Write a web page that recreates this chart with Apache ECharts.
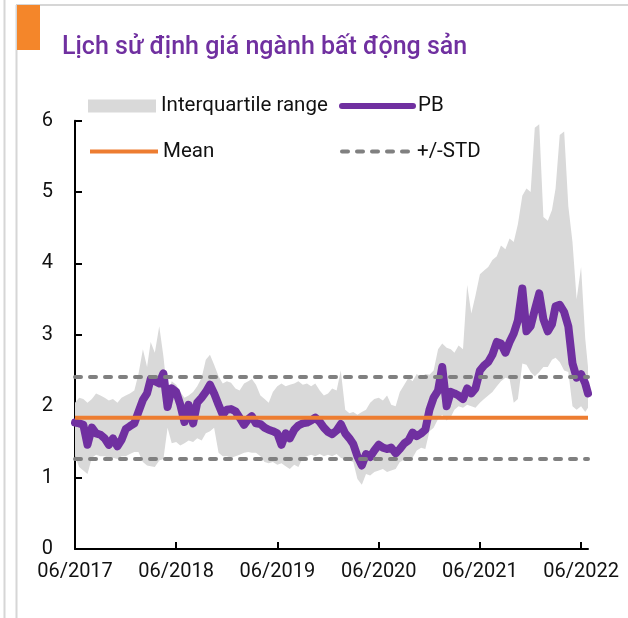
<!DOCTYPE html>
<html>
<head>
<meta charset="utf-8">
<script src="https://cdn.jsdelivr.net/npm/echarts@6/dist/echarts.min.js"></script>
<style>
  html, body { margin: 0; padding: 0; background: #fff; }
  #chart { width: 628px; height: 618px; }
</style>
</head>
<body>
<div id="chart"></div>
<script>
// Semi-monthly observation dates
const dates = [
  "2017-06-01","2017-06-16","2017-07-01","2017-07-16","2017-08-01","2017-08-16","2017-09-01","2017-09-16","2017-10-01","2017-10-16","2017-11-01","2017-11-16","2017-12-01","2017-12-16",
  "2018-01-01","2018-01-16","2018-02-01","2018-02-16","2018-03-01","2018-03-16","2018-04-01","2018-04-16","2018-05-01","2018-05-16","2018-06-01","2018-06-16","2018-07-01","2018-07-16","2018-08-01","2018-08-16","2018-09-01","2018-09-16","2018-10-01","2018-10-16","2018-11-01","2018-11-16","2018-12-01","2018-12-16",
  "2019-01-01","2019-01-16","2019-02-01","2019-02-16","2019-03-01","2019-03-16","2019-04-01","2019-04-16","2019-05-01","2019-05-16","2019-06-01","2019-06-16","2019-07-01","2019-07-16","2019-08-01","2019-08-16","2019-09-01","2019-09-16","2019-10-01","2019-10-16","2019-11-01","2019-11-16","2019-12-01","2019-12-16",
  "2020-01-01","2020-01-16","2020-02-01","2020-02-16","2020-03-01","2020-03-16","2020-04-01","2020-04-16","2020-05-01","2020-05-16","2020-06-01","2020-06-16","2020-07-01","2020-07-16","2020-08-01","2020-08-16","2020-09-01","2020-09-16","2020-10-01","2020-10-16","2020-11-01","2020-11-16","2020-12-01","2020-12-16",
  "2021-01-01","2021-01-16","2021-02-01","2021-02-16","2021-03-01","2021-03-16","2021-04-01","2021-04-16","2021-05-01","2021-05-16","2021-06-01","2021-06-16","2021-07-01","2021-07-16","2021-08-01","2021-08-16","2021-09-01","2021-09-16","2021-10-01","2021-10-16","2021-11-01","2021-11-16","2021-12-01","2021-12-16",
  "2022-01-01","2022-01-16","2022-02-01","2022-02-16","2022-03-01","2022-03-16","2022-04-01","2022-04-16","2022-05-01","2022-05-16","2022-06-01","2022-06-16","2022-06-26"
];

// Sector P/B
const pb = [
  1.77,1.76,1.74,1.46,1.70,1.62,1.60,1.55,1.46,1.55,1.44,1.53,1.68,1.72,
  1.76,1.92,2.09,2.18,2.38,2.35,2.32,2.46,1.99,2.25,2.20,2.02,1.78,2.02,1.76,2.05,2.12,2.20,2.30,2.18,2.02,1.88,1.95,1.96,
  1.93,1.84,1.74,1.82,1.86,1.76,1.75,1.70,1.67,1.65,1.62,1.46,1.62,1.55,1.67,1.73,1.76,1.77,1.80,1.84,1.78,1.70,1.64,1.61,
  1.66,1.75,1.62,1.55,1.47,1.30,1.17,1.33,1.29,1.38,1.46,1.42,1.40,1.42,1.34,1.40,1.48,1.52,1.63,1.58,1.62,1.67,1.95,2.12,
  2.22,2.55,2.00,2.20,2.18,2.15,2.10,2.25,2.18,2.25,2.50,2.57,2.62,2.72,2.90,2.88,2.75,2.90,3.02,3.20,3.65,3.05,3.12,3.35,
  3.58,3.22,3.05,3.15,3.40,3.42,3.32,3.12,2.60,2.40,2.45,2.32,2.18
];

// Interquartile range: 25th percentile
const iqrLow = [
  1.30,1.15,1.10,1.05,1.28,1.32,1.30,1.30,1.27,1.28,1.26,1.30,1.30,1.33,
  1.36,1.36,1.22,1.17,1.16,1.15,1.24,1.26,1.70,1.48,1.50,1.45,1.48,1.52,1.50,1.55,1.52,1.62,1.65,1.70,1.35,1.30,1.30,1.28,
  1.30,1.32,1.35,1.36,1.35,1.35,1.30,1.22,1.20,1.22,1.18,1.20,1.16,1.12,1.18,1.15,1.28,1.30,1.32,1.30,1.33,1.30,1.32,1.30,
  1.33,1.28,1.25,1.24,1.22,0.98,0.90,1.05,1.03,1.08,1.10,1.12,1.08,1.10,1.12,1.22,1.25,1.24,1.28,1.38,1.42,1.40,1.65,1.70,
  1.82,1.88,1.80,1.85,1.95,2.00,1.98,2.02,2.00,1.98,2.05,2.10,2.15,2.20,2.28,2.35,2.40,2.38,2.05,2.10,2.60,2.58,2.48,2.42,
  2.48,2.55,2.55,2.65,2.68,2.62,2.50,2.48,2.00,1.95,2.00,1.92,1.98
];

// Interquartile range: 75th percentile
const iqrHigh = [
  2.05,2.12,2.10,2.05,2.10,2.18,2.15,2.12,2.08,2.10,2.05,2.12,2.15,2.18,
  2.22,2.45,2.80,2.55,2.90,2.75,3.12,2.70,2.15,2.35,2.30,2.20,2.12,2.15,2.20,2.28,2.40,2.65,2.72,2.58,2.42,2.32,2.35,2.33,
  2.25,2.22,2.32,2.35,2.38,2.30,2.15,2.10,2.05,2.20,2.28,2.32,2.28,2.30,2.32,2.35,2.30,2.32,2.28,2.32,2.22,2.15,2.18,2.25,
  2.22,2.50,1.95,1.90,1.92,1.88,1.92,1.95,2.05,2.10,2.12,2.08,2.15,2.02,2.00,2.20,2.30,2.40,2.35,2.45,2.40,2.45,2.44,2.50,
  2.80,2.88,2.82,2.80,2.75,2.85,2.80,3.70,3.30,3.55,3.85,3.90,3.95,4.05,4.10,4.25,4.20,4.35,4.30,4.55,4.95,5.05,5.00,5.90,
  5.95,4.65,4.60,4.75,5.05,5.80,5.85,4.80,4.30,3.50,3.95,2.95,2.55
];

const meanPB = 1.84;
const stdUpper = 2.41;
const stdLower = 1.26;

const tickDates = ["2017-06-01","2018-06-01","2019-06-01","2020-06-01","2021-06-01","2022-06-01"];
const axisStart = "2017-06-01";
const axisEnd = "2022-06-26";

const toTs = d => { const p = d.split('-').map(Number); return Date.UTC(p[0], p[1] - 1, p[2]); };
const fmtMonth = v => { const d = new Date(v); const m = d.getUTCMonth() + 1; return (m < 10 ? '0' + m : '' + m) + '/' + d.getUTCFullYear(); };

const xs = dates.map(toTs);
const firstX = xs[0], lastX = xs[xs.length - 1];
const flat = v => [[firstX, v], [lastX, v]];

const FONT = 'Roboto';
const PURPLE = '#7030A0';
const ORANGE = '#ED7D31';
const BAND = '#D9D9D9';
const GREY = '#808080';
const txt = { fontFamily: FONT, fontSize: 20.5, color: '#111' };

// Band between the 25th and 75th percentiles, drawn as one polygon
function renderBand(params, api) {
  if (params.dataIndex !== 0) return null;
  const pts = [];
  for (let i = 0; i < xs.length; i++) pts.push(api.coord([xs[i], iqrHigh[i]]));
  for (let i = xs.length - 1; i >= 0; i--) pts.push(api.coord([xs[i], iqrLow[i]]));
  return { type: 'polygon', shape: { points: pts }, style: { fill: BAND }, silent: true };
}

const chart = echarts.init(document.getElementById('chart'), null, { renderer: 'canvas' });

const lineLegend = (name, left, top, width, lw) => ({
  data: [name], left: left, top: top, padding: 0,
  itemWidth: width, itemHeight: 13,
  lineStyle: { width: lw },
  itemStyle: { opacity: 0 },
  textStyle: txt, selectedMode: false
});

chart.setOption({
  animation: false,
  backgroundColor: '#fff',
  title: {
    text: 'Lịch sử định giá ngành bất động sản',
    left: 62, top: 35, padding: 0,
    textStyle: { fontFamily: FONT, fontSize: 25, fontWeight: 500, color: PURPLE }
  },
  graphic: [
    { type: 'line', shape: { x1: 4.5, y1: 0, x2: 4.5, y2: 618 }, style: { stroke: '#D6D6D6', lineWidth: 2 }, silent: true },
    { type: 'line', shape: { x1: 16.5, y1: 5, x2: 16.5, y2: 618 }, style: { stroke: '#D6D6D6', lineWidth: 2 }, silent: true },
    { type: 'line', shape: { x1: 16, y1: 5, x2: 628, y2: 5 }, style: { stroke: '#D6D6D6', lineWidth: 2 }, silent: true },
    { type: 'rect', shape: { x: 17, y: 5, width: 23, height: 45 }, style: { fill: '#F4862A' }, silent: true }
  ],
  legend: [
    { data: ['Interquartile range'], left: 88, top: 95.5, padding: 0, itemWidth: 68, itemHeight: 13, icon: 'rect', itemStyle: { color: BAND }, textStyle: txt, selectedMode: false },
    lineLegend('PB', 339, 95.5, 71, 6),
    lineLegend('Mean', 88, 141, 68, 4),
    lineLegend('+/-STD', 340, 141, 70, 4)
  ],
  grid: { left: 75, right: 40, top: 120.7, bottom: 69, containLabel: false },
  xAxis: {
    type: 'value',
    min: toTs(axisStart),
    max: toTs(axisEnd),
    splitLine: { show: false },
    axisLine: { show: true, onZero: false, lineStyle: { color: '#000', width: 2 } },
    axisTick: { show: true, inside: true, length: 7, lineStyle: { color: '#000', width: 2 }, customValues: tickDates.map(toTs) },
    axisLabel: { customValues: tickDates.map(toTs), formatter: fmtMonth, margin: 13, fontFamily: FONT, fontSize: 20, color: '#111' }
  },
  yAxis: {
    type: 'value',
    min: 0, max: 6, interval: 1,
    splitLine: { show: false },
    axisLine: { show: true, lineStyle: { color: '#000', width: 2 } },
    axisTick: { show: true, inside: true, length: 7, lineStyle: { color: '#000', width: 2 } },
    axisLabel: { margin: 22, fontFamily: FONT, fontSize: 20, color: '#111' }
  },
  series: [
    {
      name: 'Interquartile range', type: 'custom', silent: true,
      itemStyle: { color: BAND },
      renderItem: renderBand,
      encode: { x: 0, y: [1, 2] },
      data: xs.map((x, i) => [x, iqrLow[i], iqrHigh[i]]),
      z: 1
    },
    {
      name: 'PB', type: 'line', symbol: 'none', z: 3,
      itemStyle: { color: PURPLE },
      lineStyle: { color: PURPLE, width: 8, cap: 'round', join: 'round' },
      data: xs.map((x, i) => [x, pb[i]])
    },
    {
      name: 'Mean', type: 'line', symbol: 'none', z: 4,
      itemStyle: { color: ORANGE },
      lineStyle: { color: ORANGE, width: 4 },
      data: flat(meanPB)
    },
    {
      name: '+/-STD', type: 'line', symbol: 'none', z: 5,
      itemStyle: { color: GREY },
      lineStyle: { color: GREY, width: 4, type: [6, 9], cap: 'round' },
      data: flat(stdUpper)
    },
    {
      name: '+/-STD', type: 'line', symbol: 'none', z: 5,
      itemStyle: { color: GREY },
      lineStyle: { color: GREY, width: 4, type: [6, 9], cap: 'round' },
      data: flat(stdLower)
    }
  ]
});
</script>
</body>
</html>
